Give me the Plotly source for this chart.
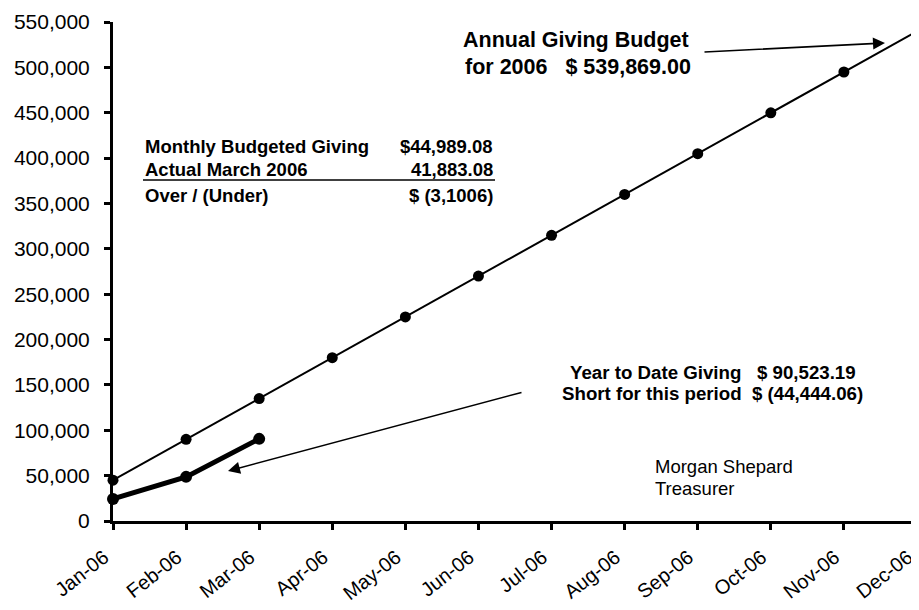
import plotly.graph_objects as go

months = ["Jan-06", "Feb-06", "Mar-06", "Apr-06", "May-06", "Jun-06",
          "Jul-06", "Aug-06", "Sep-06", "Oct-06", "Nov-06", "Dec-06"]
budget = [44989, 89978, 134967, 179956, 224945, 269935,
          314924, 359913, 404902, 449891, 494880, 539869]
actual = [24300, 48640, 90523]
y_ticks = [0, 50000, 100000, 150000, 200000, 250000, 300000,
           350000, 400000, 450000, 500000, 550000]

# page body has an 8px default margin: lay out in reference pixel coords
OFF = 8
W, H = 919 - OFF, 610 - OFF
PL, PR, PT, PB = 113, 917, 22, 521          # plot box in reference pixels
L, R, T, B = PL - OFF, (W + OFF) - PR, PT - OFF, (H + OFF) - PB
FONT = "Arial, Liberation Sans, Helvetica, sans-serif"


def px(x):
    return (x - PL) / (PR - PL)


def py(y):
    return (PB - y) / (PB - PT)


xs = list(range(len(months)))

fig = go.Figure()
fig.add_trace(go.Scatter(
    x=xs, y=budget, mode="lines+markers",
    line=dict(color="black", width=2),
    marker=dict(color="black", size=11),
    cliponaxis=False, showlegend=False,
))
fig.add_trace(go.Scatter(
    x=xs[:len(actual)], y=actual, mode="lines+markers",
    line=dict(color="black", width=5),
    marker=dict(color="black", size=12),
    cliponaxis=False, showlegend=False,
))

ann = []


def text(x, y, s, size, anchor="left", bold=True):
    ann.append(dict(
        x=px(x), y=py(y), xref="paper", yref="paper",
        text=("<b>%s</b>" % s) if bold else s,
        showarrow=False, xanchor=anchor, yanchor="middle",
        font=dict(family=FONT, size=size, color="black"),
    ))


NB = "\u00a0"
text(576, 40, "Annual Giving Budget", 21.5, "center")
text(578, 67, "for 2006" + NB * 3 + "$ 539,869.00", 21.5, "center")

text(143, 146, "Monthly Budgeted Giving", 18.5)
text(495, 146, "$44,989.08", 18.5, "right")
text(143, 170, "Actual March 2006", 18.5)
text(495, 170, "41,883.08", 18.5, "right")
text(143, 195, "Over / (Under)", 18.5)
text(495, 195, "$ (3,1006)", 18.5, "right")

text(713, 372, "Year to Date Giving" + NB * 3 + "$ 90,523.19", 18.7, "center")
text(712, 393, "Short for this period" + NB * 2 + "$ (44,444.06)", 18.7, "center")

text(653, 466, "Morgan Shepard", 18.5, bold=False)
text(653, 488, "Treasurer", 18.5, bold=False)

# arrows
ann.append(dict(
    x=px(885), y=py(43), xref="paper", yref="paper",
    ax=703 - 885, ay=52 - 43, axref="pixel", ayref="pixel",
    showarrow=True, arrowhead=2, arrowsize=1.5, arrowwidth=1.6,
    arrowcolor="black", text="",
))
ann.append(dict(
    x=px(228), y=py(471), xref="paper", yref="paper",
    ax=523 - 228, ay=392 - 471, axref="pixel", ayref="pixel",
    showarrow=True, arrowhead=2, arrowsize=1.5, arrowwidth=1.6,
    arrowcolor="black", text="",
))

shapes = [dict(
    type="line", xref="paper", yref="paper",
    x0=px(143), x1=px(495), y0=py(180), y1=py(180),
    line=dict(color="black", width=1.5),
)]

fig.update_layout(
    width=W, height=H,
    margin=dict(l=L, r=R, t=T, b=B, pad=0, autoexpand=False),
    paper_bgcolor="white", plot_bgcolor="white",
    font=dict(family=FONT, color="black"),
    annotations=ann, shapes=shapes,
    xaxis=dict(
        range=[0, 11], tickvals=xs, ticktext=months, tickangle=-38,
        showgrid=False, zeroline=False, showline=True, linecolor="black",
        linewidth=3, ticks="outside", ticklen=6, tickwidth=3, tickcolor="black",
        tickfont=dict(family=FONT, size=20, color="black"),
        ticklabelstandoff=8, ticklabelshift=-9, automargin=False,
    ),
    yaxis=dict(
        range=[0, 550000], tickvals=y_ticks, tickformat=",d",
        showgrid=False, zeroline=False, showline=True, linecolor="black",
        linewidth=3, ticks="outside", ticklen=6, tickwidth=3, tickcolor="black",
        tickfont=dict(family=FONT, size=21, color="black"),
        ticklabelstandoff=10, automargin=False,
    ),
)

fig.write_html("out.html")
